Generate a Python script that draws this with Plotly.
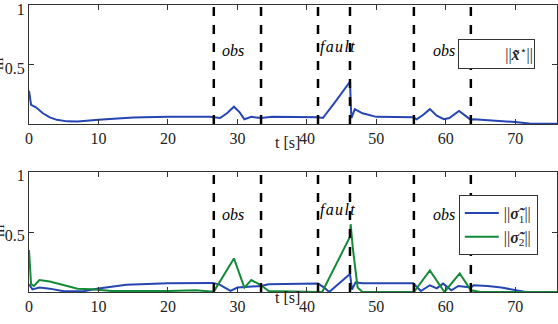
import plotly.graph_objects as go

# ---- data ----
t_x = [0, 0.3, 1, 2, 3, 4, 5.5, 7, 10, 12, 15, 20, 26, 27.5, 28.5, 29.5, 30.3, 31, 32, 33.4, 35,
       41.6, 42.3, 44, 46.2, 46.4, 46.9, 48, 50, 55.3, 55.8, 56.8, 57.7, 58.7, 59.7, 60.5, 61.9,
       62.8, 63.6, 64, 67, 70, 72, 76]
x_star = [0.28, 0.16, 0.14, 0.09, 0.055, 0.035, 0.022, 0.02, 0.035, 0.045, 0.055, 0.06, 0.06, 0.05,
          0.09, 0.145, 0.10, 0.04, 0.06, 0.05, 0.06, 0.056, 0.05, 0.18, 0.355, 0.05, 0.125, 0.09,
          0.06, 0.056, 0.04, 0.08, 0.125, 0.07, 0.04, 0.05, 0.11, 0.07, 0.035, 0.04, 0.03, 0.016,
          0.004, 0.003]

t_s1 = [0, 0.5, 1.5, 3, 5, 8, 10, 14, 20, 26.5, 27.5, 29, 30, 33.4, 34.5, 41.6, 42.5, 43.2, 46.2,
        46.5, 47, 48, 55.3, 56.4, 57.7, 58.7, 59.6, 60.8, 61.8, 63.6, 64, 66, 68, 70, 71.5, 76]
sigma1 = [0.065, 0.022, 0.037, 0.028, 0.006, 0.008, 0.03, 0.06, 0.073, 0.076, 0.06, 0.01, 0.037,
          0.05, 0.065, 0.07, 0.037, 0.0, 0.15, 0.02, 0.08, 0.073, 0.073, 0.008, 0.056, 0.03, 0.07,
          0.014, 0.05, 0.037, 0.056, 0.05, 0.037, 0.014, 0.0, 0.0]

t_s2 = [0, 0.3, 0.7, 1.5, 3, 5, 7, 9, 12, 20, 24, 26.6, 29.5, 31, 32, 33.4, 34.5, 41.6, 42.2, 46.2,
        46.3, 46.6, 47.3, 48, 55.4, 57.7, 59.8, 62, 63.6, 65, 76]
sigma2 = [0.35, 0.065, 0.05, 0.1, 0.087, 0.056, 0.028, 0.022, 0.008, 0.008, 0.014, 0.003, 0.28,
          0.037, 0.1, 0.056, 0.008, 0.0, 0.0, 0.46, 0.565, 0.37, 0.037, 0.0, 0.0, 0.18, 0.0, 0.155,
          0.014, 0.0, 0.0]

event_times = [26.6, 33.4, 41.6, 46.2, 55.4, 63.6]
event_labels = ["obs", "fault", "obs"]
event_label_t = [29.3, 44.4, 59.7]

x_ticks = [0, 10, 20, 30, 40, 50, 60, 70]
y_ticks = [0.5, 1]

BLUE = "#2545b3"
GREEN = "#138a38"
FONT = "Liberation Serif, Times New Roman, DejaVu Serif, serif"

fig = go.Figure()
fig.add_trace(go.Scatter(x=t_x, y=x_star, mode="lines", line=dict(color=BLUE, width=2),
                         xaxis="x", yaxis="y", showlegend=False, name="x*"))
fig.add_trace(go.Scatter(x=t_s1, y=sigma1, mode="lines", line=dict(color=BLUE, width=2),
                         xaxis="x2", yaxis="y2", name="||<b><i>σ̃</i></b><sub>1</sub>||"))
fig.add_trace(go.Scatter(x=t_s2, y=sigma2, mode="lines", line=dict(color=GREEN, width=2),
                         xaxis="x2", yaxis="y2", name="||<b><i>σ̃</i></b><sub>2</sub>||"))

top_dom = [0.5854, 1.0]
bot_dom = [0.0, 0.4181]

axis_common = dict(showline=True, linecolor="#333", linewidth=1, mirror="ticks",
                   ticks="inside", ticklen=5, tickcolor="#333", showgrid=False, zeroline=False,
                   automargin=False, ticklabeloverflow="allow",
                   tickfont=dict(family=FONT, size=16, color="#222"))

fig.update_layout(
    template="none",
    width=558, height=324,
    margin=dict(l=29, r=1, t=5, b=32, autoexpand=False),
    paper_bgcolor="white", plot_bgcolor="white",
    font=dict(family=FONT, size=16, color="#222"),
    xaxis=dict(domain=[0, 1], range=[0, 76], tickvals=x_ticks, anchor="y", **axis_common),
    yaxis=dict(domain=top_dom, range=[0, 1], tickvals=y_ticks, ticktext=["0.5", "1"], anchor="x",
               ticklabelshift=4, **axis_common),
    xaxis2=dict(domain=[0, 1], range=[0, 76], tickvals=x_ticks, anchor="y2", **axis_common),
    yaxis2=dict(domain=bot_dom, range=[0, 1], tickvals=y_ticks, ticktext=["0.5", "1"], anchor="x2",
                ticklabelshift=3, **axis_common),
    legend=dict(x=0.814, y=0.338, xanchor="left", yanchor="top", bgcolor="white",
                bordercolor="#333", borderwidth=1, font=dict(family=FONT, size=16),
                tracegroupgap=0, itemwidth=34),
)

shapes = []
annotations = []
HS = "\u200a"
for xa, ya in [("x", "y"), ("x2", "y2")]:
    for te in event_times:
        shapes.append(dict(type="line", xref=xa, yref=ya + " domain", x0=te, x1=te, y0=0, y1=1,
                           line=dict(color="black", width=2.5, dash="dash")))
    for lab, tl in zip(event_labels, event_label_t):
        yv = 0.65 if lab == "fault" else 0.62
        if ya == "y2":
            yv = 0.68 if lab == "fault" else 0.65
        txt = HS.join(lab) if lab == "fault" else lab
        annotations.append(dict(x=tl, y=yv, xref=xa, yref=ya, text="<i>%s</i>" % txt,
                                showarrow=False, font=dict(family=FONT, size=16, color="black")))

# axis titles
annotations.append(dict(x=(287 - 29) / 528, y=(292 - 142) / 287, xref="paper", yref="paper",
                        text="t [s]", showarrow=False, font=dict(family=FONT, size=16)))
annotations.append(dict(x=(287 - 29) / 528, y=(292 - 308) / 287, xref="paper", yref="paper",
                        text="t [s]", showarrow=False, font=dict(family=FONT, size=16)))
for ypx in [64, 231]:
    annotations.append(dict(x=(-2 - 29) / 528, y=(292 - ypx) / 287, xref="paper", yref="paper",
                            xanchor="center", yanchor="middle",
                            text="m", textangle=-90, showarrow=False,
                            font=dict(family=FONT, size=16)))

# top legend box (text only)
annotations.append(dict(x=(496.5 - 29) / 528, y=(292 - 54) / 287, xref="paper", yref="paper",
                        xanchor="center", yanchor="middle",
                        text="||<b><i>x̃</i></b><sup>⋆</sup>||", showarrow=False, align="right",
                        width=73, height=26, bgcolor="white", bordercolor="#333", borderwidth=1,
                        font=dict(family=FONT, size=16)))

fig.update_layout(shapes=shapes, annotations=annotations)
fig.write_html("out.html", post_script="document.body.style.margin='0';",
               config={"displayModeBar": False})
